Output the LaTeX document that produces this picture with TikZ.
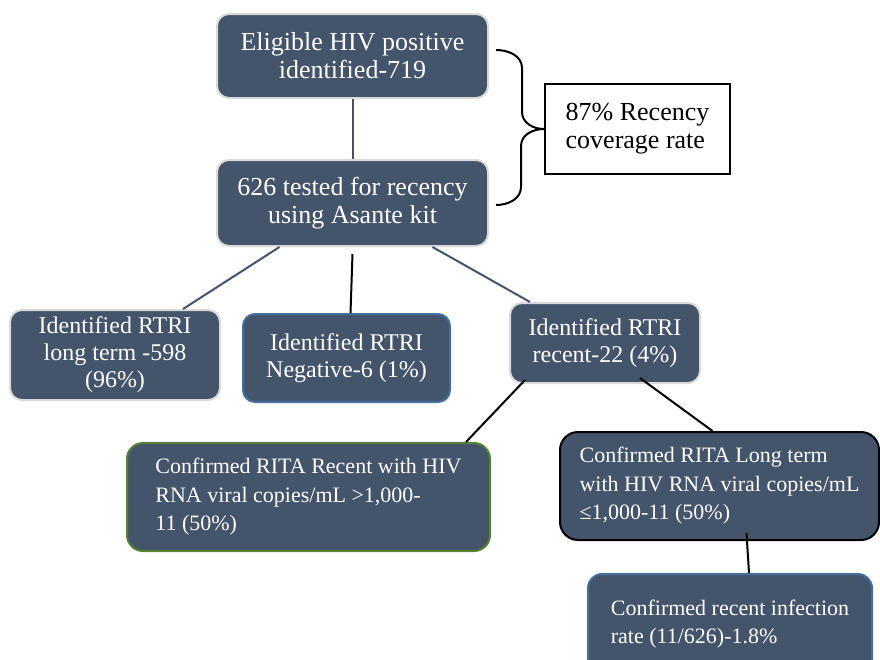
\documentclass[tikz,border=0pt]{standalone}
\usepackage{fontspec}
\setmainfont{Liberation Serif}
\definecolor{slate}{HTML}{44546A}
\definecolor{paleedge}{HTML}{D9D9D9}
\definecolor{blueedge}{HTML}{41719C}
\definecolor{greenedge}{HTML}{548235}
\begin{document}
\begin{tikzpicture}[x=1pt,y=1pt,
  box/.style={fill=slate,text=white,line width=2pt,rounded corners=12pt,inner sep=0pt},
  bigtext/.style={align=center,font=\fontsize{26}{28}\selectfont},
  midtext/.style={align=center,font=\fontsize{24}{27}\selectfont},
  smalltext/.style={align=left,font=\fontsize{22}{28.5}\selectfont},
  link/.style={line width=2pt,draw=slate},
  blacklink/.style={line width=2pt,draw=black}]
\useasboundingbox (0,0) rectangle (880,-659);
\clip (0,0) rectangle (880,-659);
% top of the tree
\node[box,bigtext,draw=paleedge,minimum width=271,minimum height=84] (elig) at (352.5,-56) {Eligible HIV positive\\identified-719};
\node[box,bigtext,draw=paleedge,minimum width=271,minimum height=86] (tested) at (352.5,-203) {626 tested for recency\\using Asante kit};
\node[draw=black,line width=2pt,align=left,font=\fontsize{26}{28}\selectfont,minimum width=185,minimum height=90,inner sep=0pt] (cov) at (637.5,-129) {87\% Recency\\coverage rate};
\coordinate (bracetop) at (496,-50);
\coordinate (bracebot) at (496,-205);
\draw[line width=2pt] (bracetop) to[out=0,in=90] ++(26,-18) -- ++(0,-44) to[out=-90,in=180] (cov.west)
  to[out=180,in=90] ++(-23,-17) -- ++(0,-41) to[out=-90,in=0] (bracebot);
% RTRI results
\node[box,midtext,draw=paleedge,minimum width=210,minimum height=90] (longterm) at (115,-355) {Identified RTRI\\long term -598\\(96\%)};
\node[box,midtext,draw=blueedge,minimum width=207,minimum height=88] (negative) at (346.5,-358) {Identified RTRI\\Negative-6 (1\%)};
\node[box,midtext,draw=paleedge,minimum width=190,minimum height=80] (recent) at (605,-343) {Identified RTRI\\recent-22 (4\%)};
% RITA results
\node[box,smalltext,draw=greenedge,minimum width=363,minimum height=108,rounded corners=16pt] (confrec) at (308.5,-497) {Confirmed RITA Recent with HIV\\RNA viral copies/mL >1,000-\\11 (50\%)};
\node[box,smalltext,draw=black,minimum width=319,minimum height=108,rounded corners=18pt] (conflong) at (719.5,-486) {Confirmed RITA Long term\\with HIV RNA viral copies/mL\\≤1,000-11 (50\%)};
\node[box,smalltext,draw=blueedge,minimum width=284,minimum height=100,rounded corners=14pt] (rate) at (730,-624) {Confirmed recent infection\\rate (11/626)-1.8\%};
% connectors
\draw[link] (elig.south) -- (tested.north);
\draw[link] ([xshift=-73pt]tested.south) -- ([xshift=68pt]longterm.north);
\draw[blacklink] ([yshift=-7pt]tested.south) -- ([xshift=4pt]negative.north);
\draw[link] ([xshift=80pt]tested.south) -- ([xshift=-75pt]recent.north);
\draw[blacklink] ([xshift=-80pt,yshift=4pt]recent.south) -- ([xshift=-25pt]confrec.north east);
\draw[blacklink] ([xshift=35pt,yshift=6pt]recent.south) -- ([xshift=-7pt]conflong.north);
\draw[blacklink] ([xshift=27pt,yshift=8pt]conflong.south) -- ([xshift=19pt]rate.north);
\end{tikzpicture}
\end{document}
